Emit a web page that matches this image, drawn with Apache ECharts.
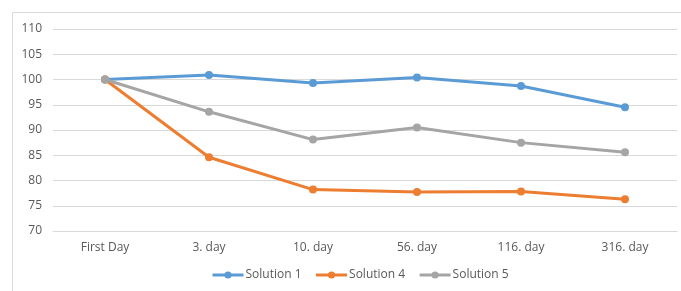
<!DOCTYPE html>
<html>
<head>
<meta charset="utf-8">
<script src="https://cdn.jsdelivr.net/npm/echarts@6/dist/echarts.min.js"></script>
<style>
  html, body { margin: 0; padding: 0; background: #fff; }
  #main { width: 681px; height: 291px; }
</style>
</head>
<body>
<div id="main"></div>
<script>
// categories and series
const days = ['First Day', '3. day', '10. day', '56. day', '116. day', '316. day'];
const solution1 = [100, 100.9, 99.3, 100.4, 98.7, 94.5];
const solution4 = [100, 84.6, 78.2, 77.7, 77.8, 76.3];
const solution5 = [100, 93.6, 88.1, 90.5, 87.5, 85.6];

const txt = '#595959';
const font = '"Open Sans", "Noto Sans", sans-serif';

function line(name, data, color) {
  return {
    name: name,
    type: 'line',
    data: data,
    symbol: 'circle',
    symbolSize: 8,
    lineStyle: { width: 3, color: color },
    itemStyle: { color: color },
    z: 3
  };
}

const chart = echarts.init(document.getElementById('main'));
chart.setOption({
  animation: false,
  textStyle: { fontFamily: font },
  graphic: [{
    type: 'rect',
    shape: { x: 12.5, y: 12.5, width: 720, height: 320 },
    style: { fill: 'none', stroke: '#D9D9D9', lineWidth: 1 },
    silent: true
  }],
  grid: { left: 53, right: 4, top: 29, bottom: 60, containLabel: false },
  legend: {
    bottom: 5,
    left: 206,
    itemWidth: 31,
    itemHeight: 9,
    itemGap: 13,
    lineStyle: { width: 3 },
    textStyle: { color: txt, fontSize: 12, fontFamily: font, padding: [0, 0, 0, -3] },
    data: ['Solution 1', 'Solution 4', 'Solution 5']
  },
  xAxis: {
    type: 'category',
    data: days,
    axisLine: { show: true, lineStyle: { color: '#D9D9D9' } },
    axisTick: { show: false },
    axisLabel: { color: txt, fontSize: 12, margin: 11, fontFamily: font }
  },
  yAxis: {
    type: 'value',
    min: 70,
    max: 110,
    interval: 5,
    axisLine: { show: false },
    axisTick: { show: false },
    splitLine: { lineStyle: { color: '#D9D9D9', width: 1 } },
    axisLabel: { color: txt, fontSize: 12, margin: 11, fontFamily: font }
  },
  series: [
    line('Solution 1', solution1, '#5B9BD5'),
    line('Solution 4', solution4, '#ED7D31'),
    line('Solution 5', solution5, '#A5A5A5')
  ]
});
</script>
</body>
</html>
